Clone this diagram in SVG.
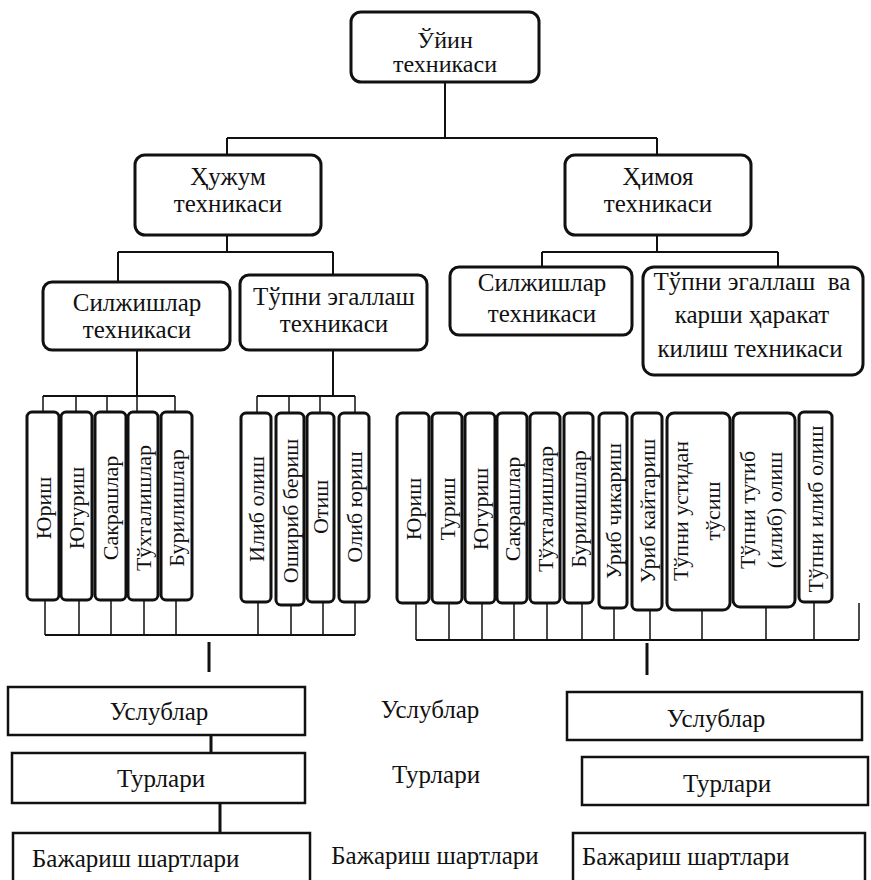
<svg xmlns="http://www.w3.org/2000/svg" width="871" height="880" viewBox="0 0 871 880">
<style>
.rb{fill:#fff;stroke:#111;stroke-width:3}
.pb{fill:#fff;stroke:#111;stroke-width:2.5}
text{font-family:"Liberation Serif","Times New Roman",serif;fill:#111;text-anchor:middle}
.t24{font-size:24px}
.t25{font-size:25px}
.tv{font-size:22px}
.st{text-anchor:start}
.ln{stroke:#111;stroke-width:2;fill:none}
.thin{stroke:#111;stroke-width:1.5;fill:none}
.thick{stroke:#111;stroke-width:3;fill:none}
</style>
<rect width="871" height="880" fill="#fff"/>

<!-- connectors -->
<g id="connectors">
  <path class="ln" d="M445 82V138M227 138H657M227 138V155M657 138V155"/>
  <path class="ln" d="M227 235V252M118 252H333M118 252V282M333 252V275"/>
  <path class="ln" d="M657 235V252M542 252H778M542 252V267M778 252V267"/>
  <path class="ln" d="M137 350V396M43 396H175M333 350V396M257 396H355"/>
  <path class="thin" d="M43 396V412M76 396V412M107 396V412M137 396V412M175 396V412M257 396V413M289 396V413M320 396V413M355 396V413"/>
  <path class="thin" d="M45 600V635M79 600V635M111 600V635M144 600V635M176 600V635M258 602V635M291 605V635M323 602V635M355 602V635"/>
  <path class="ln" d="M45 635H355"/>
  <path class="thick" d="M209 642V672"/>
  <path class="thin" d="M416 603V640M449 603V640M482 603V640M514 603V640M547 603V640M582 603V640M614 608V640M650 610V640M702 610V640M766 607V640M814 602V640M859 603V640"/>
  <path class="ln" d="M416 640H859"/>
  <path class="thick" d="M647 643V675"/>
  <path class="thick" d="M211 735V753M220 803V833"/>
</g>

<!-- main level -->
<g id="n-game">
  <rect class="rb" x="351" y="12" width="188" height="70" rx="10"/>
  <text class="t24" x="445" y="48">Ўйин</text>
  <text class="t24" x="445" y="72">техникаси</text>
</g>
<g id="n-attack">
  <rect class="rb" x="135" y="155" width="186" height="80" rx="10"/>
  <text class="t25" x="228" y="185">Ҳужум</text>
  <text class="t25" x="228" y="212">техникаси</text>
</g>
<g id="n-defence">
  <rect class="rb" x="565" y="155" width="186" height="80" rx="10"/>
  <text class="t25" x="658" y="185">Ҳимоя</text>
  <text class="t25" x="658" y="212">техникаси</text>
</g>

<!-- second level -->
<g id="n-move-a">
  <rect class="rb" x="43" y="282" width="187" height="68" rx="9"/>
  <text class="t25" x="137" y="311">Силжишлар</text>
  <text class="t25" x="137" y="338">техникаси</text>
</g>
<g id="n-ball-a">
  <rect class="rb" x="240" y="275" width="187" height="75" rx="9"/>
  <text class="t25" x="334" y="305">Тўпни эгаллаш</text>
  <text class="t25" x="334" y="332">техникаси</text>
</g>
<g id="n-move-d">
  <rect class="rb" x="450" y="267" width="182" height="68" rx="9"/>
  <text class="t25" x="542" y="291">Силжишлар</text>
  <text class="t25" x="542" y="322">техникаси</text>
</g>
<g id="n-ball-d">
  <rect class="rb" x="643" y="267" width="220" height="108" rx="11"/>
  <text class="t25" x="752" y="290" xml:space="preserve">Тўпни эгаллаш  ва</text>
  <text class="t25" x="752" y="323">карши ҳаракат</text>
  <text class="t25" x="750" y="357">килиш техникаси</text>
</g>

<!-- attack: vertical items -->
<g id="a1"><rect class="rb" x="27" y="412" width="32" height="188" rx="5"/><text class="tv" transform="translate(43 508) rotate(-90)" y="7.5">Юриш</text></g>
<g id="a2"><rect class="rb" x="61" y="412" width="31" height="188" rx="5"/><text class="tv" transform="translate(76.5 508) rotate(-90)" y="7.5">Югуриш</text></g>
<g id="a3"><rect class="rb" x="95" y="412" width="31" height="188" rx="5"/><text class="tv" transform="translate(110.5 508) rotate(-90)" y="7.5">Сакрашлар</text></g>
<g id="a4"><rect class="rb" x="128" y="412" width="30" height="188" rx="5"/><text class="tv" transform="translate(143 508) rotate(-90)" y="7.5">Тўхталишлар</text></g>
<g id="a5"><rect class="rb" x="161" y="412" width="31" height="188" rx="5"/><text class="tv" transform="translate(176.5 508) rotate(-90)" y="7.5">Бурилишлар</text></g>
<g id="a6"><rect class="rb" x="241" y="413" width="30" height="189" rx="5"/><text class="tv" transform="translate(256 509) rotate(-90)" y="7.5">Илиб олиш</text></g>
<g id="a7"><rect class="rb" x="276" y="413" width="28" height="192" rx="5"/><text class="tv" transform="translate(290 511) rotate(-90)" y="7.5">Ошириб бериш</text></g>
<g id="a8"><rect class="rb" x="307" y="413" width="27" height="189" rx="5"/><text class="tv" transform="translate(320.5 507) rotate(-90)" y="7.5">Отиш</text></g>
<g id="a9"><rect class="rb" x="339" y="413" width="30" height="189" rx="5"/><text class="tv" transform="translate(354 507) rotate(-90)" y="7.5">Олиб юриш</text></g>

<!-- defence: vertical items -->
<g id="d1"><rect class="rb" x="397" y="413" width="32" height="190" rx="5"/><text class="tv" transform="translate(413 509) rotate(-90)" y="7.5">Юриш</text></g>
<g id="d2"><rect class="rb" x="432" y="413" width="30" height="190" rx="5"/><text class="tv" transform="translate(447 509) rotate(-90)" y="7.5">Туриш</text></g>
<g id="d3"><rect class="rb" x="465" y="413" width="30" height="190" rx="5"/><text class="tv" transform="translate(480 509) rotate(-90)" y="7.5">Югуриш</text></g>
<g id="d4"><rect class="rb" x="497" y="413" width="30" height="190" rx="5"/><text class="tv" transform="translate(512 509) rotate(-90)" y="7.5">Сакрашлар</text></g>
<g id="d5"><rect class="rb" x="530" y="413" width="30" height="190" rx="5"/><text class="tv" transform="translate(545 509) rotate(-90)" y="7.5">Тўхталишлар</text></g>
<g id="d6"><rect class="rb" x="564" y="413" width="29" height="190" rx="5"/><text class="tv" transform="translate(578.5 509) rotate(-90)" y="7.5">Бурилишлар</text></g>
<g id="d7"><rect class="rb" x="599" y="413" width="28" height="195" rx="5"/><text class="tv" transform="translate(613 511) rotate(-90)" y="7.5">Уриб чикариш</text></g>
<g id="d8"><rect class="rb" x="632" y="413" width="30" height="197" rx="5"/><text class="tv" transform="translate(647 511) rotate(-90)" y="7.5">Уриб кайтариш</text></g>
<g id="d9"><rect class="rb" x="667" y="413" width="63" height="197" rx="7"/>
  <text class="tv" transform="translate(698.5 511) rotate(-90)" y="-11">Тўпни устидан</text>
  <text class="tv" transform="translate(698.5 511) rotate(-90)" y="21">тўсиш</text></g>
<g id="d10"><rect class="rb" x="733" y="413" width="62" height="194" rx="7"/>
  <text class="tv" transform="translate(764 510) rotate(-90)" y="-9">Тўпни тутиб</text>
  <text class="tv" transform="translate(764 510) rotate(-90)" y="18">(илиб) олиш</text></g>
<g id="d11"><rect class="rb" x="799" y="412" width="33" height="190" rx="5"/><text class="tv" transform="translate(815.5 509) rotate(-90)" y="7.5">Тўпни илиб олиш</text></g>

<!-- lower blocks, left column -->
<g id="l-methods"><rect class="pb" x="8" y="687" width="297" height="48"/><text class="t25" x="159" y="720">Услублар</text></g>
<g id="l-kinds"><rect class="pb" x="12" y="753" width="293" height="50"/><text class="t25" x="161" y="787">Турлари</text></g>
<g id="l-terms"><rect class="pb" x="13" y="833" width="297" height="56"/><text class="t25 st" x="32" y="867">Бажариш шартлари</text></g>

<!-- lower blocks, middle column (no frames) -->
<g id="m-methods"><text class="t25" x="430" y="718">Услублар</text></g>
<g id="m-kinds"><text class="t25" x="436" y="783">Турлари</text></g>
<g id="m-terms"><text class="t25" x="435" y="864">Бажариш шартлари</text></g>

<!-- lower blocks, right column -->
<g id="r-methods"><rect class="pb" x="567" y="692" width="295" height="48"/><text class="t25" x="716" y="727">Услублар</text></g>
<g id="r-kinds"><rect class="pb" x="582" y="757" width="286" height="48"/><text class="t25" x="727" y="792">Турлари</text></g>
<g id="r-terms"><rect class="pb" x="573" y="833" width="292" height="56"/><text class="t25 st" x="582" y="865">Бажариш шартлари</text></g>
</svg>
